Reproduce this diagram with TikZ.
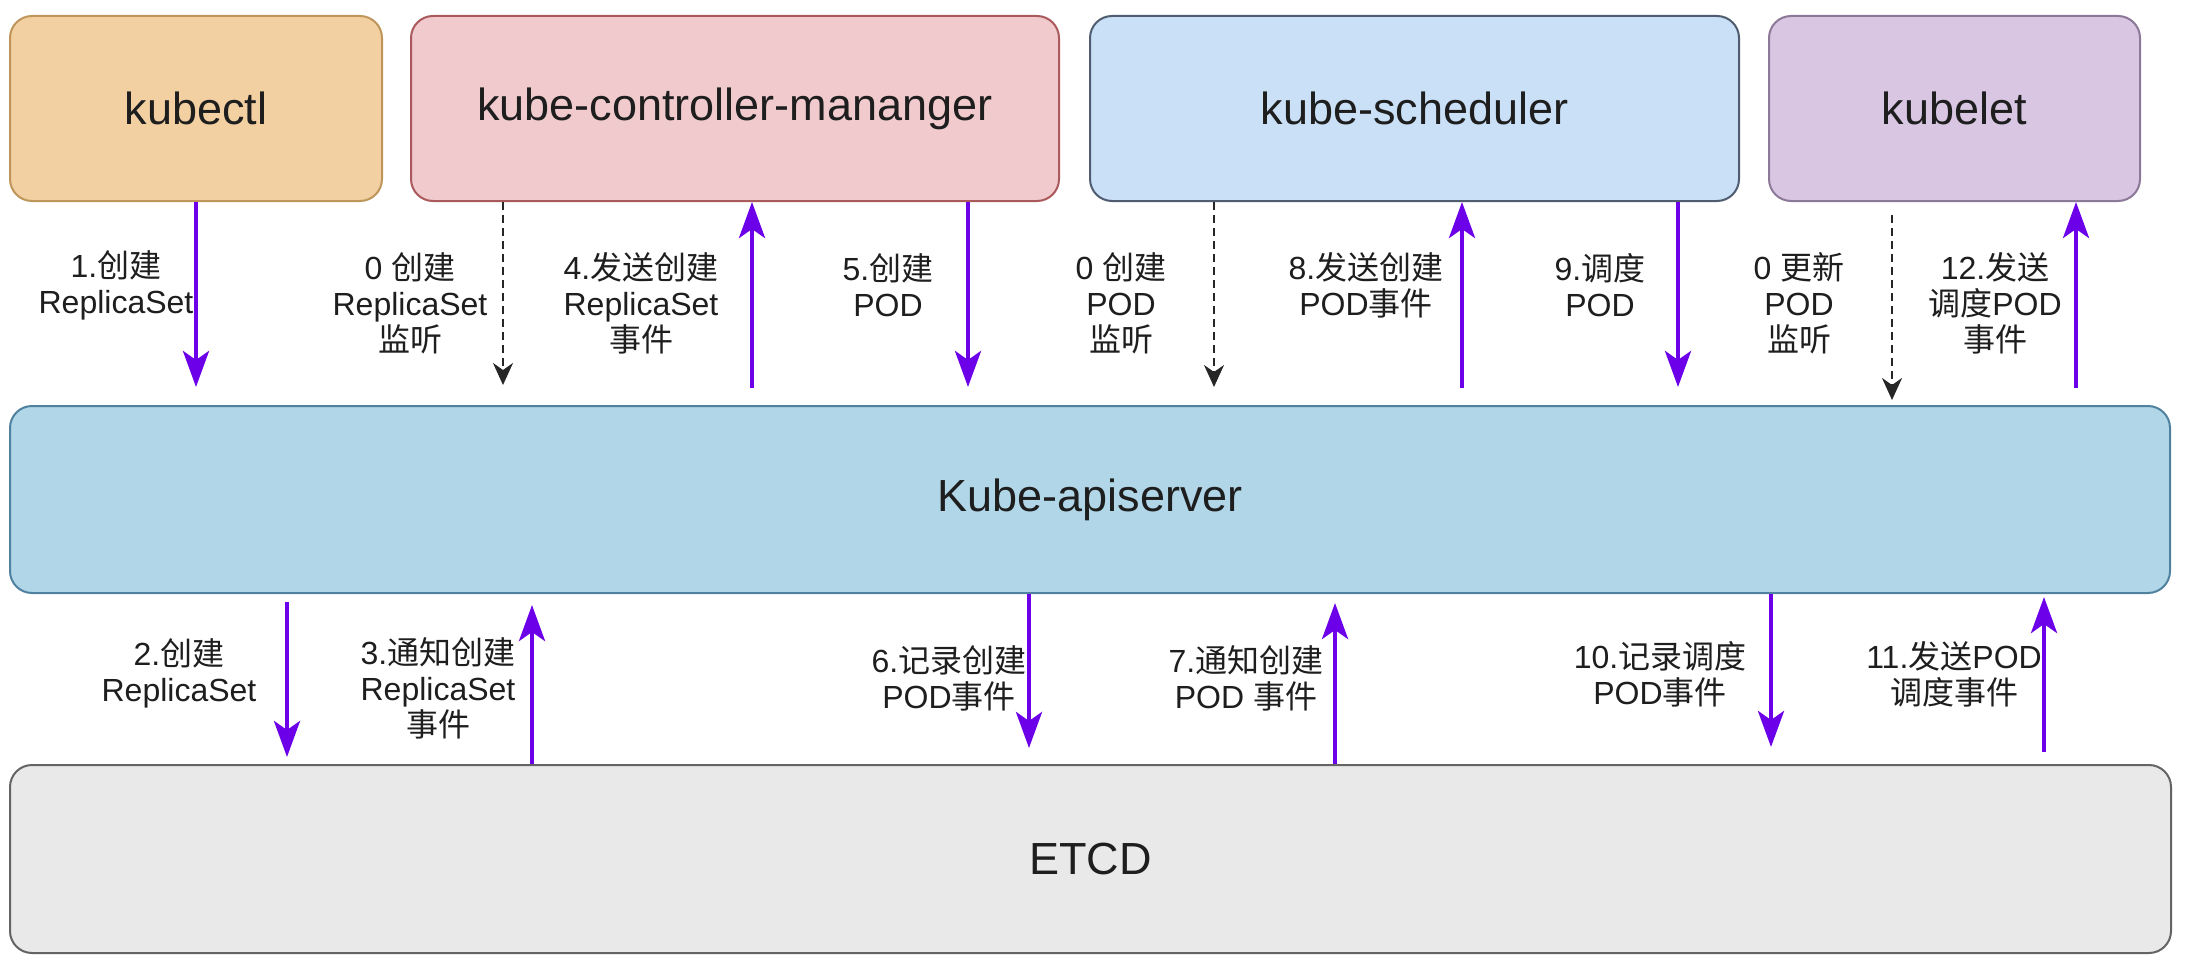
\documentclass[tikz,border=0pt]{standalone}
\usepackage{fontspec}
\setmainfont{Liberation Sans}
\newfontfamily\cjk{Noto Sans CJK SC}
\usetikzlibrary{arrows.meta}
\definecolor{orF}{RGB}{242,208,162}\definecolor{orD}{RGB}{190,150,90}
\definecolor{rdF}{RGB}{240,202,204}\definecolor{rdD}{RGB}{170,90,92}
\definecolor{blF}{RGB}{202,224,246}\definecolor{blD}{RGB}{80,92,112}
\definecolor{puF}{RGB}{216,198,226}\definecolor{puD}{RGB}{140,120,152}
\definecolor{apF}{RGB}{176,214,232}\definecolor{apD}{RGB}{80,130,160}
\definecolor{etF}{RGB}{233,233,233}\definecolor{etD}{RGB}{100,100,100}
\definecolor{arrP}{RGB}{108,0,232}
\definecolor{txt}{RGB}{30,30,30}
\tikzset{
  box/.style={rounded corners=22pt, line width=2pt, inner sep=0pt, text=txt,
    font=\fontsize{45}{50}\selectfont},
  lbl/.style={align=center, inner sep=0pt, text=txt, font=\fontsize{32}{36}\selectfont},
  parr/.style={draw=arrP, line width=4.5pt, -{Stealth[length=36pt,width=26pt,inset=9pt]}},
  darr/.style={draw=black!85, line width=2pt, dash pattern=on 8pt off 5pt,
    -{Stealth[length=22pt,width=20pt,inset=7pt]}}
}
\begin{document}
\begin{tikzpicture}[x=1pt,y=-1pt]
\useasboundingbox[fill=white] (0,0) rectangle (2186,971);
% boxes
\node[box, fill=orF, draw=orD, minimum width=372pt, minimum height=185pt] (kubectl) at (196,108.5) {kubectl};
\node[box, fill=rdF, draw=rdD, minimum width=648pt, minimum height=185pt] (kcm) at (735,108.5) {kube-controller-mananger};
\node[box, fill=blF, draw=blD, minimum width=649pt, minimum height=185pt] (sched) at (1414.5,108.5) {kube-scheduler};
\node[box, fill=puF, draw=puD, minimum width=371pt, minimum height=185pt] (kubelet) at (1954.5,108.5) {kubelet};
\node[box, fill=apF, draw=apD, minimum width=2160pt, minimum height=187pt] (api) at (1090,499.5) {Kube-apiserver};
\node[box, fill=etF, draw=etD, minimum width=2161pt, minimum height=188pt] (etcd) at (1090.5,859) {ETCD};
% free ends of connectors (top)
\coordinate (e1) at (196,387);
\coordinate (e0a) at (503,385);
\coordinate (s4) at (752,388);
\coordinate (e5) at (968,387);
\coordinate (e0b) at (1214,387);
\coordinate (s8) at (1462,388);
\coordinate (e9) at (1678,387);
\coordinate (b0c) at (1892,215);
\coordinate (e0c) at (1892,400);
\coordinate (s12) at (2076,388);
% top connectors
\draw[parr] (kubectl.south -| e1) -- (e1);
\draw[darr] (kcm.south -| e0a) -- (e0a);
\draw[parr] (s4) -- (kcm.south -| s4);
\draw[parr] (kcm.south -| e5) -- (e5);
\draw[darr] (sched.south -| e0b) -- (e0b);
\draw[parr] (s8) -- (sched.south -| s8);
\draw[parr] (sched.south -| e9) -- (e9);
\draw[darr] (b0c) -- (e0c);
\draw[parr] (s12) -- (kubelet.south -| s12);
% free ends (bottom)
\coordinate (b2) at (287,602);
\coordinate (e2) at (287,757);
\coordinate (e3) at (532,605);
\coordinate (e6) at (1029,748);
\coordinate (e7) at (1335,603);
\coordinate (e10) at (1771,747);
\coordinate (b11) at (2044,752);
\coordinate (e11) at (2044,597);
% bottom connectors
\draw[parr] (b2) -- (e2);
\draw[parr] (etcd.north -| e3) -- (e3);
\draw[parr] (api.south -| e6) -- (e6);
\draw[parr] (etcd.north -| e7) -- (e7);
\draw[parr] (api.south -| e10) -- (e10);
\draw[parr] (b11) -- (e11);
% labels top
\node[lbl] (l1) at (116,285) {1.{\cjk 创建}\\ReplicaSet};
\node[lbl] (l0a) at (410,303) {0 {\cjk 创建}\\ReplicaSet\\{\cjk 监听}};
\node[lbl] (l4) at (641,303) {4.{\cjk 发送创建}\\ReplicaSet\\{\cjk 事件}};
\node[lbl] (l5) at (888,285) {5.{\cjk 创建}\\POD};
\node[lbl] (l0b) at (1121,303) {0 {\cjk 创建}\\POD\\{\cjk 监听}};
\node[lbl] (l8) at (1366,285) {8.{\cjk 发送创建}\\POD{\cjk 事件}};
\node[lbl] (l9) at (1600,285) {9.{\cjk 调度}\\POD};
\node[lbl] (l0c) at (1799,303) {0 {\cjk 更新}\\POD\\{\cjk 监听}};
\node[lbl] (l12) at (1995,303) {12.{\cjk 发送}\\{\cjk 调度}POD\\{\cjk 事件}};
% labels bottom
\node[lbl] (l2) at (179,673) {2.{\cjk 创建}\\ReplicaSet};
\node[lbl] (l3) at (438,688) {3.{\cjk 通知创建}\\ReplicaSet\\{\cjk 事件}};
\node[lbl] (l6) at (949,678) {6.{\cjk 记录创建}\\POD{\cjk 事件}};
\node[lbl] (l7) at (1246,678) {7.{\cjk 通知创建}\\POD {\cjk 事件}};
\node[lbl] (l10) at (1660,674) {10.{\cjk 记录调度}\\POD{\cjk 事件}};
\node[lbl] (l11) at (1954,674) {11.{\cjk 发送}POD\\{\cjk 调度事件}};
\end{tikzpicture}
\end{document}
